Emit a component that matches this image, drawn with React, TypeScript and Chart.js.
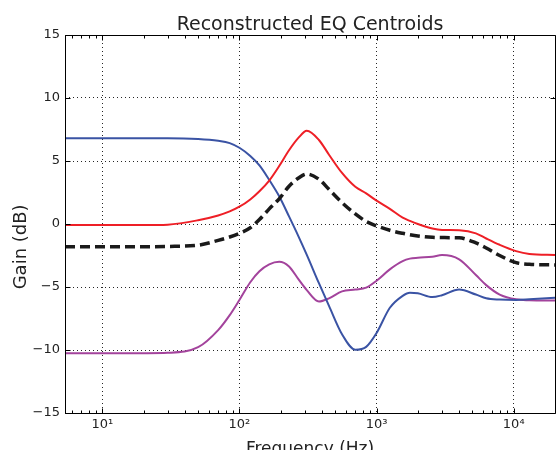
import React, { useEffect, useRef } from 'react';
import { Chart, registerables } from 'chart.js';

Chart.register(...registerables);

// ---- data ----
const freqs = [5.35, 10, 20, 30, 50, 70, 85, 100, 120, 140, 165, 195, 230, 270, 310, 380, 450, 560, 700, 840, 1000, 1250, 1550, 1750, 2000, 2550, 3000, 4000, 5300, 6300, 7900, 10400, 13000, 20000];

const blueGain = [6.8, 6.8, 6.8, 6.8, 6.74, 6.6, 6.42, 6.05, 5.4, 4.65, 3.5, 2.2, 0.6, -1.0, -2.45, -4.7, -6.5, -8.75, -9.98, -9.75, -8.65, -6.65, -5.7, -5.45, -5.5, -5.8, -5.65, -5.2, -5.6, -5.9, -6.0, -6.03, -5.98, -5.85];

const redGain = [-0.08, -0.08, -0.08, -0.05, 0.3, 0.68, 1.0, 1.37, 1.95, 2.6, 3.45, 4.6, 5.85, 6.85, 7.4, 6.67, 5.5, 4.05, 2.95, 2.43, 1.85, 1.2, 0.5, 0.25, 0.0, -0.35, -0.47, -0.5, -0.74, -1.15, -1.65, -2.15, -2.38, -2.46];

const magentaGain = [-10.26, -10.26, -10.25, -10.22, -9.78, -8.42, -7.23, -6.03, -4.62, -3.75, -3.2, -3.0, -3.37, -4.4, -5.25, -6.15, -5.9, -5.35, -5.2, -5.05, -4.5, -3.6, -2.95, -2.75, -2.68, -2.6, -2.47, -2.8, -4.05, -4.85, -5.6, -5.98, -6.05, -6.08];

const meanGain = [-1.8, -1.8, -1.8, -1.78, -1.68, -1.3, -1.03, -0.74, -0.3, 0.35, 1.2, 2.0, 3.0, 3.65, 3.97, 3.55, 2.75, 1.7, 0.8, 0.2, -0.15, -0.5, -0.74, -0.85, -0.95, -1.06, -1.08, -1.1, -1.5, -1.9, -2.5, -3.07, -3.2, -3.25];

const xTickValues = [10, 100, 1000, 10000];
const xTickLabels = ['10\u00b9', '10\u00b2', '10\u00b3', '10\u2074'];
const xMinorMultiples = [2, 3, 4, 5, 6, 7, 8, 9];
const yTickValues = [-15, -10, -5, 0, 5, 10, 15];

const X_MIN = 5.35;
const X_MAX = 20000;

const FONT = 'DejaVu Sans';

const toPoints = (vals: number[]) => freqs.map((f, i) => ({ x: f, y: vals[i] }));

const framePlugin = {
  id: 'frameTicks',
  afterDatasetsDraw(chart: any) {
    const { ctx, chartArea: a, scales } = chart;
    const xs = scales.x;
    const ys = scales.y;
    const L = Math.round(a.left) + 0.5;
    const R = Math.round(a.right) + 0.5;
    const T = Math.round(a.top) + 0.5;
    const B = Math.round(a.bottom) + 0.5;
    ctx.save();
    ctx.strokeStyle = '#000';
    ctx.lineWidth = 1;
    ctx.beginPath();
    for (let d = 1; d <= 10000; d *= 10) {
      for (const m of xMinorMultiples) {
        const v = d * m;
        if (v <= X_MIN || v >= X_MAX) continue;
        const px = Math.round(xs.getPixelForValue(v)) + 0.5;
        ctx.moveTo(px, B); ctx.lineTo(px, B - 3);
        ctx.moveTo(px, T); ctx.lineTo(px, T + 3);
      }
    }
    for (const v of xTickValues) {
      const px = Math.round(xs.getPixelForValue(v)) + 0.5;
      ctx.moveTo(px, B); ctx.lineTo(px, B - 5);
      ctx.moveTo(px, T); ctx.lineTo(px, T + 5);
    }
    for (const v of yTickValues) {
      const py = Math.round(ys.getPixelForValue(v)) + 0.5;
      ctx.moveTo(L, py); ctx.lineTo(L + 5, py);
      ctx.moveTo(R, py); ctx.lineTo(R - 5, py);
    }
    ctx.stroke();
    ctx.beginPath();
    ctx.rect(L, T, R - L, B - T);
    ctx.stroke();
    ctx.restore();
  },
};

const lineStyle = {
  pointRadius: 0,
  cubicInterpolationMode: 'monotone',
  fill: false,
};

export default function App() {
  const ref = useRef<HTMLCanvasElement | null>(null);

  useEffect(() => {
    if (!ref.current) return;
    const chart = new Chart(ref.current, {
      type: 'line',
      data: {
        datasets: [
          {
            label: 'mean',
            data: toPoints(meanGain),
            borderColor: '#1a1a1a',
            borderWidth: 3.5,
            borderDash: [10, 5],
            borderCapStyle: 'butt',
            ...lineStyle,
          },
          {
            label: 'centroid 1',
            data: toPoints(redGain),
            borderColor: '#ee1f26',
            borderWidth: 2,
            ...lineStyle,
          },
          {
            label: 'centroid 2',
            data: toPoints(blueGain),
            borderColor: '#3a53a4',
            borderWidth: 2,
            ...lineStyle,
          },
          {
            label: 'centroid 3',
            data: toPoints(magentaGain),
            borderColor: '#a3439c',
            borderWidth: 2,
            ...lineStyle,
          },
        ],
      },
      options: {
        animation: false,
        responsive: false,
        devicePixelRatio: 1,
        events: [],
        layout: { padding: { left: 0, right: 1, top: 0, bottom: 0 } },
        plugins: {
          legend: { display: false },
          tooltip: { enabled: false },
          title: {
            display: true,
            text: 'Reconstructed EQ Centroids',
            fullSize: false,
            color: '#222',
            font: { family: FONT, size: 19, weight: 'normal', lineHeight: 1.2 },
            padding: { top: 14, bottom: -1.8 },
          },
        },
        scales: {
          x: {
            type: 'logarithmic',
            position: 'bottom',
            min: X_MIN,
            max: X_MAX,
            afterBuildTicks: (scale: any) => {
              scale.ticks = xTickValues.map((v) => ({ value: v, major: true }));
            },
            afterFit: (scale: any) => {
              scale.height = 37;
            },
            ticks: {
              autoSkip: false,
              maxRotation: 0,
              color: '#222',
              padding: 4,
              font: { family: FONT, size: 13 },
              callback: (v: any) => {
                const i = xTickValues.indexOf(Number(v));
                return i >= 0 ? xTickLabels[i] : '';
              },
            },
            grid: {
              color: 'rgba(0,0,0,0.85)',
              lineWidth: 1,
              drawTicks: false,
            },
            border: { display: false, dash: [1, 3] },
            title: {
              display: true,
              text: 'Frequency (Hz)',
              color: '#222',
              font: { family: FONT, size: 17, lineHeight: 1.2 },
              padding: { top: 0, bottom: -9.8 },
            },
          },
          y: {
            type: 'linear',
            position: 'left',
            min: -15,
            max: 15,
            afterBuildTicks: (scale: any) => {
              scale.ticks = yTickValues.map((v) => ({ value: v }));
            },
            afterFit: (scale: any) => {
              scale.width = 65;
            },
            ticks: {
              color: '#222',
              padding: 5,
              font: { family: FONT, size: 13 },
              callback: (v: any) => {
                const n = Number(v);
                return n < 0 ? '\u2212' + Math.abs(n) : String(n);
              },
            },
            grid: {
              color: 'rgba(0,0,0,0.85)',
              lineWidth: 1,
              drawTicks: false,
            },
            border: { display: false, dash: [1, 3] },
            title: {
              display: true,
              text: 'Gain (dB)        ',
              color: '#222',
              font: { family: FONT, size: 18, lineHeight: 1.2 },
              padding: { top: 11, bottom: 0 },
            },
          },
        },
      },
      plugins: [framePlugin],
    } as any);
    return () => chart.destroy();
  }, []);

  return (
    <div style={{ position: 'absolute', left: 0, top: 0, width: 556, height: 450, background: '#fff' }}>
      <canvas ref={ref} width={556} height={450} style={{ display: 'block' }} />
    </div>
  );
}
